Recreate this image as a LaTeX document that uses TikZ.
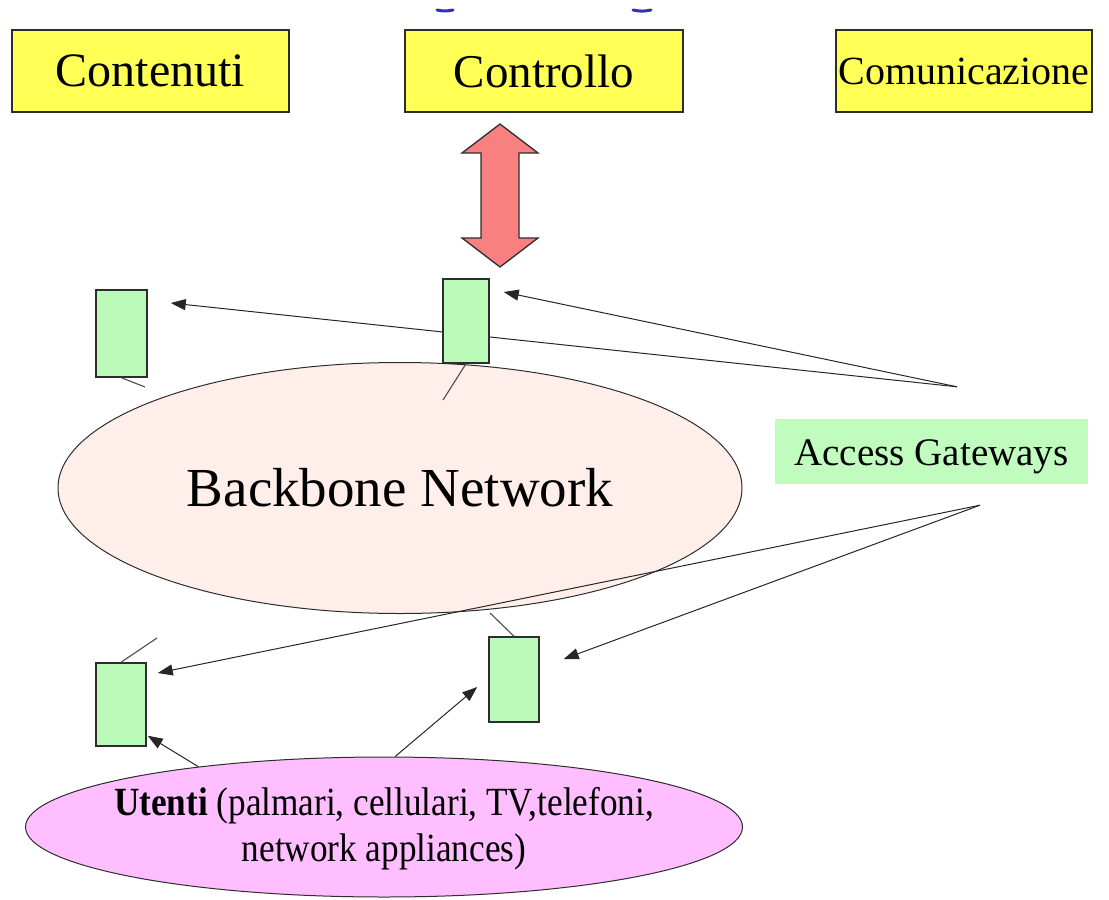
\documentclass[tikz,border=0pt]{standalone}
\usepackage{fontspec}
\setmainfont{Liberation Serif}
\newfontfamily\labelserif{Liberation Serif}
\newfontfamily\condserif[FakeStretch=0.88]{Liberation Serif}
\usetikzlibrary{arrows.meta,calc,shapes.geometric}
\pgfdeclarelayer{bg}
\pgfdeclarelayer{mid}
\pgfsetlayers{bg,mid,main}

\definecolor{topyellow}{RGB}{255,255,85}
\definecolor{gwgreen}{RGB}{187,250,185}
\definecolor{labelgreen}{RGB}{192,252,190}
\definecolor{backbonepink}{RGB}{255,238,234}
\definecolor{userpink}{RGB}{255,190,255}
\definecolor{arrowred}{RGB}{248,128,128}
\definecolor{edgegray}{RGB}{45,45,45}
\definecolor{titleblue}{RGB}{50,50,170}

\begin{document}
\begin{tikzpicture}[x=1pt,y=-1pt,
  topbox/.style={draw=edgegray,line width=1.8pt,fill=topyellow,
    minimum height=82pt,inner sep=0pt},
  gwbox/.style={draw=edgegray,line width=1.5pt,fill=gwgreen,inner sep=0pt},
  cloud/.style={ellipse,draw=edgegray,line width=1pt,inner sep=0pt},
  link/.style={line width=1pt,draw=black!85},
  feed/.style={link,-{Triangle[length=15pt,width=11pt]}},
  stub/.style={line width=1.1pt,draw=black!70}]

\useasboundingbox (0,0) rectangle (1109,900);

% fragments of the heading above the picture
\draw[titleblue,line width=3pt,line cap=round] (437,10) to[bend right=12] (453,10);
\draw[titleblue,line width=3pt,line cap=round] (633,10) to[bend right=12] (651,10);

% service layers
\node[topbox,minimum width=277pt,font=\labelserif\fontsize{48}{56}\selectfont] (cont) at (150.5,71) {Contenuti};
\node[topbox,minimum width=278pt,font=\labelserif\fontsize{47}{56}\selectfont] (ctrl) at (544,71) {Controllo};
\node[topbox,minimum width=256pt,font=\labelserif\fontsize{40}{48}\selectfont] (comm) at (964,71) {Comunicazione};

% double arrow between control layer and core gateway
\coordinate (dbl) at (500,195.5);
\draw[draw=edgegray,line width=1.3pt,fill=arrowred,line join=miter]
  ($(dbl)+(0,-71.5)$) -- ($(dbl)+(38,-42.5)$) -- ($(dbl)+(19,-42.5)$) --
  ($(dbl)+(19,42.5)$) -- ($(dbl)+(38,42.5)$) -- ($(dbl)+(0,71.5)$) --
  ($(dbl)+(-38,42.5)$) -- ($(dbl)+(-19,42.5)$) -- ($(dbl)+(-19,-42.5)$) --
  ($(dbl)+(-38,-42.5)$) -- cycle;

% gateways
\node[gwbox,minimum width=51pt,minimum height=87pt] (tl) at (121.5,333.5) {};
\node[gwbox,minimum width=46pt,minimum height=84pt] (tc) at (466,321) {};
\node[gwbox,minimum width=50pt,minimum height=83pt] (bl) at (121,704.5) {};
\node[gwbox,minimum width=50pt,minimum height=85pt] (br) at (514,679.5) {};

% label of the gateways
\node[fill=labelgreen,minimum width=313pt,minimum height=65pt,inner sep=0pt,
  text height=27pt,text depth=0pt,font=\labelserif\fontsize{39}{46}\selectfont] (gw) at (931.5,451.5) {Access Gateways};

\begin{pgfonlayer}{bg}
  \node[cloud,fill=backbonepink,minimum width=684pt,minimum height=251pt,
    font=\labelserif\fontsize{55}{64}\selectfont] (core) at (400,488) {Backbone Network};
  \node[cloud,fill=userpink,minimum width=717pt,minimum height=140pt] (users) at (384,827) {};
  \node[align=center,font=\condserif\fontsize{40}{46}\selectfont] (userstext) at (384,829)
    {\textbf{Utenti} (palmari, cellulari, TV,telefoni,\\network appliances)};
\end{pgfonlayer}

% pointers from the label
\coordinate (gt) at ($(gw.north)+(25.5,-32)$);
\coordinate (gb) at ($(gw.south)+(48.5,21)$);

\begin{pgfonlayer}{mid}
  \draw[feed] (gt) -- ($(tl.east)+(23,-30.5)$);
  \draw[feed] (gt) -- ($(tc.east)+(14,-29)$);
  \draw[feed] (gb) -- ($(bl.east)+(11,-31.5)$);
  \draw[feed] (gb) -- ($(br.east)+(24,-20.5)$);
  \draw[feed] (users.162.8) -- ($(bl.south east)+(1,-11)$);
  \draw[feed] (users.81) -- ($(br.west)+(-11,7.5)$);
\end{pgfonlayer}

% short links towards the backbone
\coordinate (tlend) at (145,387);
\coordinate (tcend) at (443,400);
\coordinate (blend) at (157,638);
\coordinate (brend) at (490,613);
\draw[stub] (tl.south) -- (tlend);
\draw[stub] (tc.south) -- (tcend);
\draw[stub] (bl.north) -- (blend);
\draw[stub] (br.north) -- (brend);

\end{tikzpicture}
\end{document}
